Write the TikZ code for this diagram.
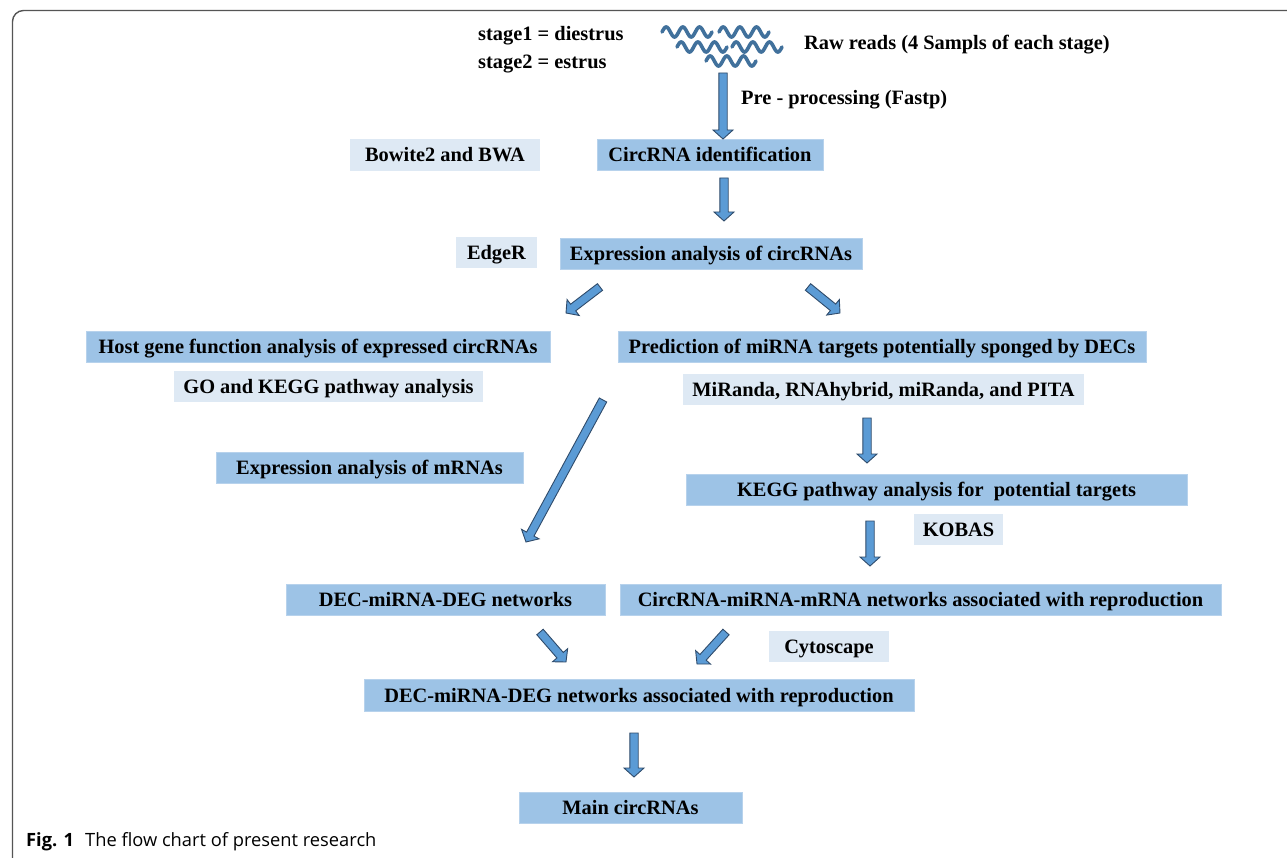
\documentclass[tikz,border=0pt]{standalone}
\usepackage{fontspec}
\setmainfont{Liberation Serif}
\newfontfamily\capfont{Open Sans}
\usetikzlibrary{calc}
\definecolor{boxdark}{HTML}{9DC3E6}
\definecolor{boxdarkline}{HTML}{B7D2EC}
\definecolor{boxlight}{HTML}{DEE9F4}
\definecolor{arrowfill}{HTML}{5B9BD5}
\definecolor{arrowline}{HTML}{2F4B6B}
\definecolor{wavecol}{HTML}{41719C}
\definecolor{framecol}{HTML}{555555}
\tikzset{
  bodytext/.style={font=\fontsize{20.4}{23}\selectfont\bfseries, text=black},
  darkbox/.style={bodytext, fill=boxdark, draw=boxdarkline, line width=0.8pt, inner sep=0pt, text height=14pt, text depth=0pt},
  lightbox/.style={bodytext, fill=boxlight, draw=none, inner sep=0pt, text height=14pt, text depth=0pt},
  plaintext/.style={bodytext, inner sep=0pt, anchor=west},
  blockarr/.style={fill=arrowfill, draw=arrowline, line width=0.9pt, line join=miter},
  wave/.style={draw=wavecol, line width=3.6pt, line cap=round},
}
\newcommand\blockarrow[2]{%
  \coordinate (bac) at ($(#2)!9pt!(#1)$);
  \filldraw[blockarr] ($(#1)!4.2pt!90:(#2)$) -- ($(bac)!4.2pt!90:(#2)$) -- ($(bac)!10pt!90:(#2)$) -- (#2)
     -- ($(bac)!10pt!-90:(#2)$) -- ($(bac)!4.2pt!-90:(#2)$) -- ($(#1)!4.2pt!-90:(#2)$) -- cycle;}
\newcommand\squiggle[2]{%
  \draw[wave] plot[domain=0:50, samples=61, smooth] ({#1+\x}, {#2-5*sin(\x*21.6)});}
\begin{document}
\begin{tikzpicture}[x=1pt, y=-1pt]
\useasboundingbox (0,0) rectangle (1287,858);
\fill[white] (0,0) rectangle (1287,858);
% frame
\draw[framecol, line width=1.4pt, rounded corners=11pt] (1290,10.5) -- (12.5,10.5) -- (12.5,862);

% header texts
\node[plaintext] (st1) at (478,36) {stage1 = diestrus};
\node[plaintext] (st2) at (478,64) {stage2 = estrus};
\node[plaintext] (raw) at (804,45) {Raw reads (4 Sampls of each stage)};
\node[plaintext] (pre) at (741,100) {Pre - processing (Fastp)};

% reads
\squiggle{662}{32}
\squiggle{719}{32}
\squiggle{677}{47}
\squiggle{732}{47}
\squiggle{706}{61}

% boxes
\node[lightbox, minimum width=190pt, minimum height=32pt] (bow) at (445,155) {Bowite2 and BWA};
\node[darkbox, minimum width=226pt, minimum height=31pt] (circid) at (710,155) {CircRNA identification};
\node[lightbox, minimum width=81pt, minimum height=31pt] (edger) at (496.5,253) {EdgeR};
\node[darkbox, minimum width=302pt, minimum height=31pt] (exprc) at (711,253.5) {Expression analysis of circRNAs};
\node[darkbox, minimum width=464pt, minimum height=31pt] (host) at (318,346.5) {Host gene function analysis of expressed circRNAs};
\node[darkbox, minimum width=528pt, minimum height=31pt] (pred) at (882,346.5) {Prediction of miRNA targets potentially sponged by DECs};
\node[lightbox, minimum width=309pt, minimum height=31pt] (gokegg) at (328.5,386.5) {GO and KEGG pathway analysis};
\node[lightbox, minimum width=401pt, minimum height=31pt] (miranda) at (883.5,389) {MiRanda, RNAhybrid, miRanda, and PITA};
\node[darkbox, minimum width=307pt, minimum height=31pt] (exprm) at (369.5,467.5) {Expression analysis of mRNAs};
\node[darkbox, minimum width=501pt, minimum height=31pt] (kegg) at (936.5,489.5) {KEGG pathway analysis for\ \ potential targets};
\node[lightbox, minimum width=89pt, minimum height=31pt] (kobas) at (958.5,529.5) {KOBAS};
\node[darkbox, minimum width=319pt, minimum height=31pt] (decnet) at (445.5,599.5) {DEC-miRNA-DEG networks};
\node[darkbox, minimum width=601pt, minimum height=31pt] (ccnet) at (920.5,599.5) {CircRNA-miRNA-mRNA networks associated with reproduction};
\node[lightbox, minimum width=120pt, minimum height=31pt] (cyto) at (829,646.5) {Cytoscape};
\node[darkbox, minimum width=550pt, minimum height=32pt] (decrep) at (639,695) {DEC-miRNA-DEG networks associated with reproduction};
\node[darkbox, minimum width=223pt, minimum height=31pt] (mainc) at (630.5,807.5) {Main circRNAs};

% arrow end points
\coordinate (a1s) at (723,73);   \coordinate (a1e) at (723,139);
\coordinate (a2s) at (724,178);  \coordinate (a2e) at (724,221);
\coordinate (a3s) at (600,287);  \coordinate (a3e) at (566,313);
\coordinate (a4s) at (808,287);  \coordinate (a4e) at (840,313);
\coordinate (a5s) at (603,400);  \coordinate (a5e) at (526,542);
\coordinate (a6s) at (867,418);  \coordinate (a6e) at (867,463);
\coordinate (a7s) at (870,521);  \coordinate (a7e) at (870,566);
\coordinate (a8s) at (540,632);  \coordinate (a8e) at (566,662);
\coordinate (a9s) at (726,632);  \coordinate (a9e) at (697,664);
\coordinate (a10s) at (634,733); \coordinate (a10e) at (634,777);
\blockarrow{a1s}{a1e}
\blockarrow{a2s}{a2e}
\blockarrow{a3s}{a3e}
\blockarrow{a4s}{a4e}
\blockarrow{a5s}{a5e}
\blockarrow{a6s}{a6e}
\blockarrow{a7s}{a7e}
\blockarrow{a8s}{a8e}
\blockarrow{a9s}{a9e}
\blockarrow{a10s}{a10e}

% caption
\node[anchor=west, inner sep=0pt, font=\capfont\fontsize{18.3}{21}\selectfont] (cap) at (26,842) {\textbf{Fig. 1}\hspace{0.6em}The flow chart of present research};
\end{tikzpicture}
\end{document}
